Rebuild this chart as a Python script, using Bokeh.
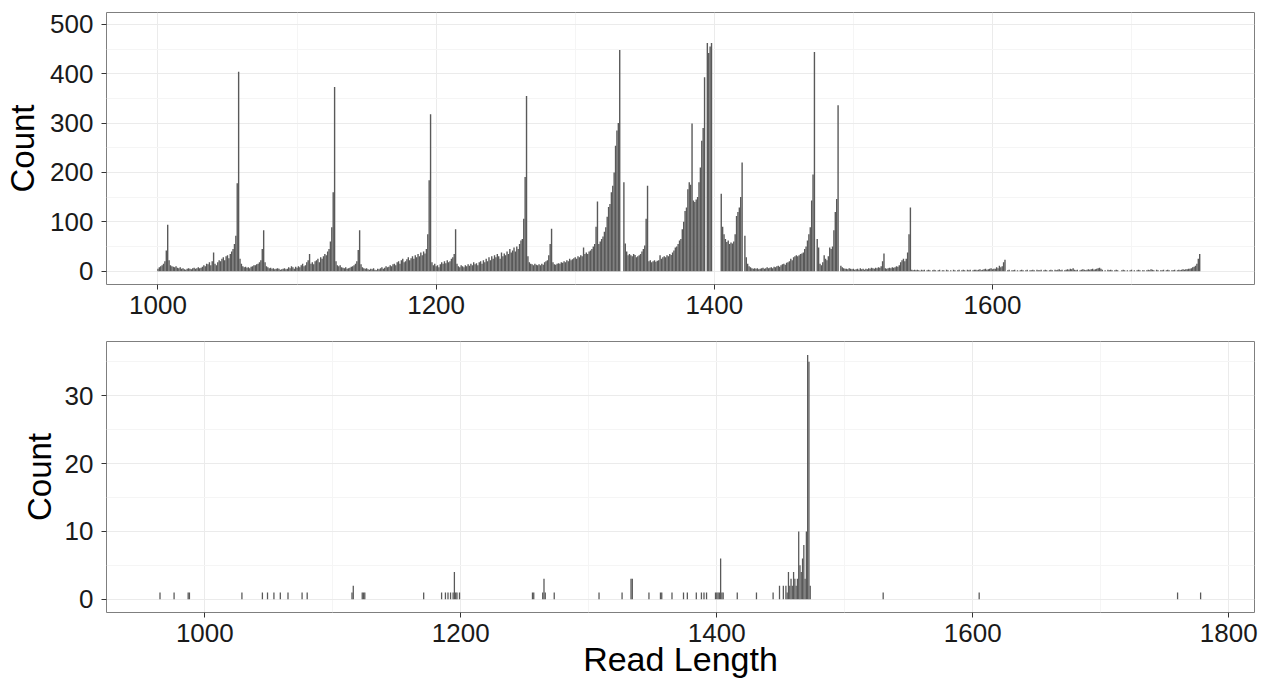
from bokeh.plotting import figure
from bokeh.layouts import column
from bokeh.models import Range1d, FixedTicker
from bokeh.embed import file_html
from bokeh.resources import INLINE

# ---------------- data ----------------
# Top panel: counts per read length, starting at 1000 (bin width 1)
top_start = 1000
top_counts = [
    5, 8, 10, 12, 15, 20, 42, 94, 22, 12,
    10, 9, 8, 10, 7, 6, 8, 5, 6, 4,
    3, 5, 6, 5, 4, 6, 7, 5, 6, 8,
    6, 7, 9, 12, 10, 15, 14, 18, 12, 20,
    38, 15, 12, 18, 22, 20, 25, 28, 22, 30,
    32, 26, 35, 40, 45, 55, 72, 178, 404, 25,
    15, 10, 8, 9, 7, 8, 6, 9, 10, 12,
    12, 14, 15, 18, 22, 45, 83, 18, 10, 8,
    6, 7, 5, 6, 4, 5, 6, 5, 3, 4,
    5, 6, 4, 5, 8, 6, 10, 8, 5, 9,
    7, 10, 8, 12, 15, 10, 12, 18, 22, 35,
    15, 18, 14, 20, 22, 25, 18, 28, 25, 30,
    35, 32, 40, 45, 60, 89, 160, 373, 20, 12,
    10, 12, 8, 7, 6, 8, 5, 6, 7, 9,
    10, 12, 15, 20, 43, 83, 14, 8, 6, 5,
    6, 4, 3, 5, 4, 6, 3, 2, 5, 4,
    6, 8, 5, 7, 10, 8, 9, 12, 10, 14,
    15, 12, 18, 20, 15, 22, 25, 18, 20, 24,
    28, 22, 26, 30, 25, 32, 28, 35, 30, 38,
    32, 40, 36, 45, 75, 184, 318, 18, 12, 15,
    10, 12, 8, 14, 18, 15, 20, 16, 22, 18,
    20, 25, 28, 35, 85, 15, 10, 8, 12, 10,
    8, 12, 10, 14, 11, 15, 12, 18, 14, 16,
    12, 18, 20, 15, 22, 18, 25, 20, 28, 22,
    30, 25, 32, 28, 35, 30, 25, 38, 30, 36,
    32, 40, 35, 45, 38, 42, 48, 40, 50, 45,
    55, 62, 65, 106, 191, 355, 30, 18, 15, 14,
    12, 15, 13, 12, 14, 12, 15, 13, 18, 20,
    22, 32, 55, 86, 18, 14, 13, 15, 16, 15,
    18, 17, 20, 18, 22, 20, 25, 22, 24, 26,
    28, 25, 30, 28, 32, 30, 48, 35, 38, 35,
    40, 42, 45, 50, 55, 90, 141, 55, 60, 65,
    70, 80, 89, 110, 130, 136, 160, 173, 200, 254,
    285, 300, 448, 0, 0, 180, 56, 40, 32, 35,
    32, 30, 35, 33, 28, 30, 32, 35, 40, 45,
    52, 106, 173, 20, 22, 18, 20, 22, 19, 21,
    22, 32, 25, 28, 30, 28, 32, 30, 35, 33,
    38, 42, 48, 50, 55, 62, 65, 85, 100, 122,
    129, 166, 180, 175, 299, 143, 140, 145, 150, 180,
    210, 264, 290, 393, 0, 462, 442, 455, 462, 0,
    0, 0, 0, 0, 0, 157, 90, 75, 65, 59,
    62, 55, 58, 56, 60, 75, 112, 120, 129, 150,
    220, 0, 72, 28, 15, 10, 8, 6, 5, 6,
    5, 6, 4, 5, 6, 7, 5, 6, 8, 6,
    7, 8, 6, 9, 8, 10, 11, 9, 12, 14,
    15, 13, 17, 18, 20, 25, 22, 28, 30, 32,
    30, 32, 35, 36, 38, 45, 50, 62, 75, 89,
    143, 196, 444, 0, 65, 48, 15, 12, 18, 32,
    25, 22, 30, 48, 45, 50, 83, 120, 146, 336,
    0, 11, 8, 6, 5, 5, 4, 6, 5, 4,
    5, 3, 4, 5, 3, 6, 4, 5, 3, 5,
    4, 6, 5, 7, 6, 5, 7, 6, 8, 7,
    10, 20, 36, 6, 5, 6, 7, 6, 8, 7,
    8, 10, 9, 12, 18, 22, 25, 20, 25, 38,
    75, 129, 3, 2, 3, 2, 3, 2, 1, 3,
    2, 3, 0, 2, 3, 2, 0, 2, 3, 2,
    0, 2, 3, 0, 2, 2, 0, 3, 2, 0,
    2, 0, 3, 2, 0, 2, 3, 0, 2, 3,
    2, 0, 3, 2, 3, 0, 2, 3, 3, 2,
    3, 4, 2, 3, 4, 5, 3, 4, 5, 6,
    4, 5, 5, 8, 6, 11, 8, 10, 18, 23,
    0, 2, 3, 0, 2, 2, 3, 0, 2, 0,
    2, 3, 2, 0, 2, 3, 0, 2, 2, 3,
    2, 0, 3, 2, 2, 3, 0, 2, 3, 2,
    0, 2, 3, 2, 0, 3, 2, 3, 4, 2,
    3, 0, 2, 3, 4, 3, 5, 4, 6, 3,
    2, 3, 0, 2, 3, 4, 3, 2, 3, 4,
    3, 4, 5, 3, 4, 5, 6, 7, 5, 3,
    0, 2, 0, 3, 2, 3, 2, 0, 2, 3,
    2, 0, 0, 2, 3, 2, 0, 2, 0, 2,
    3, 0, 2, 0, 2, 3, 2, 0, 2, 2,
    0, 2, 3, 2, 4, 3, 2, 0, 3, 2,
    0, 2, 2, 3, 0, 2, 3, 2, 0, 2,
    2, 3, 0, 2, 3, 2, 3, 4, 3, 4,
    4, 5, 5, 6, 8, 9, 11, 15, 25, 35,
]
top_lengths = list(range(top_start, top_start + len(top_counts)))

# Bottom panel: non-empty bins only
bottom_lengths = [
    965, 976, 987, 988, 1029, 1045, 1049, 1054, 1059, 1065, 1076, 1080,
    1115, 1116, 1123, 1124, 1125, 1171, 1185, 1188, 1190, 1192, 1194, 1195,
    1196, 1197, 1199, 1256, 1257, 1264, 1265, 1266, 1273, 1308, 1326, 1333,
    1334, 1347, 1356, 1357, 1365, 1374, 1377, 1384, 1388, 1390, 1392, 1399,
    1400, 1401, 1402, 1403, 1404, 1405, 1416, 1431, 1444, 1449, 1452, 1454,
    1455, 1456, 1457, 1458, 1459, 1460, 1461, 1462, 1463, 1464, 1465, 1466,
    1467, 1468, 1469, 1470, 1471, 1472, 1473, 1530, 1605, 1760, 1778,
]
bottom_counts = [
    1, 1, 1, 1, 1, 1, 1, 1, 1, 1, 1, 1,
    1, 2, 1, 1, 1, 1, 1, 1, 1, 1, 1, 4,
    1, 1, 1, 1, 1, 1, 3, 1, 1, 1, 1, 3,
    3, 1, 1, 1, 1, 1, 1, 1, 1, 1, 1, 1,
    1, 1, 1, 6, 1, 1, 1, 1, 1, 2, 2, 2,
    1, 4, 2, 3, 2, 4, 3, 2, 3, 10, 5, 4,
    6, 8, 3, 10, 36, 35, 2, 1, 1, 1, 1,
]

top_xticks = [1000, 1200, 1400, 1600]
top_xminor = [1100, 1300, 1500, 1700]
top_yticks = [0, 100, 200, 300, 400, 500]
top_yminor = [50, 150, 250, 350, 450]
bot_xticks = [1000, 1200, 1400, 1600, 1800]
bot_xminor = [1100, 1300, 1500, 1700]
bot_yticks = [0, 10, 20, 30]
bot_yminor = [5, 15, 25, 35]

FONT = "Liberation Sans"
BAR = "#595959"


def style(p, xt, xm, yt, ym):
    p.xaxis.ticker = FixedTicker(ticks=xt, minor_ticks=xm)
    p.yaxis.ticker = FixedTicker(ticks=yt, minor_ticks=ym)
    for ax in (p.xaxis[0], p.yaxis[0]):
        ax.axis_line_color = None
        ax.major_tick_in = 0
        ax.major_tick_out = 5
        ax.minor_tick_in = 0
        ax.minor_tick_out = 0
        ax.major_tick_line_color = "#333333"
        ax.major_tick_line_width = 1
        ax.major_label_text_font = FONT
        ax.major_label_text_font_size = "26px"
        ax.major_label_text_color = "#1a1a1a"
        ax.axis_label_text_font = FONT
        ax.axis_label_text_font_style = "normal"
        ax.axis_label_text_color = "#000000"
    p.xaxis.major_label_standoff = 6
    p.yaxis.major_label_standoff = 8
    for g in (p.xgrid[0], p.ygrid[0]):
        g.grid_line_color = "#EBEBEB"
        g.grid_line_width = 1
        g.minor_grid_line_color = "#F5F5F5"
        g.minor_grid_line_width = 1
    p.outline_line_color = "#7F7F7F"
    p.outline_line_width = 1
    p.background_fill_color = "white"
    p.border_fill_color = "white"


# ---------------- top ----------------
top = figure(width=1262, height=320, output_backend="svg", toolbar_location=None,
             x_range=Range1d(963.0, 1788.4), y_range=Range1d(-27, 524),
             min_border_left=106, min_border_right=8, min_border_top=12,
             min_border_bottom=36)
top.vbar(x=top_lengths, top=top_counts, bottom=0, width=1,
         fill_color=BAR, line_color=None)
style(top, top_xticks, top_xminor, top_yticks, top_yminor)
top.yaxis.axis_label = "Count"
top.yaxis.axis_label_text_font_size = "33px"
top.yaxis.axis_label_standoff = 6

# ---------------- bottom ----------------
bot = figure(width=1262, height=360, output_backend="svg", toolbar_location=None,
             x_range=Range1d(923.2, 1820.1), y_range=Range1d(-1.96, 38.0),
             min_border_left=106, min_border_right=8, min_border_top=21,
             min_border_bottom=68)
bot.vbar(x=bottom_lengths, top=bottom_counts, bottom=0, width=1,
         fill_color=BAR, line_color=None)
style(bot, bot_xticks, bot_xminor, bot_yticks, bot_yminor)
bot.yaxis.axis_label = "Count"
bot.yaxis.axis_label_text_font_size = "33px"
bot.yaxis.axis_label_standoff = 4
bot.xaxis.axis_label = "Read Length"
bot.xaxis.axis_label_text_font_size = "34px"
bot.xaxis.axis_label_standoff = -5

layout = column(top, bot, spacing=0)
open("out.html", "w").write(file_html(layout, INLINE))
